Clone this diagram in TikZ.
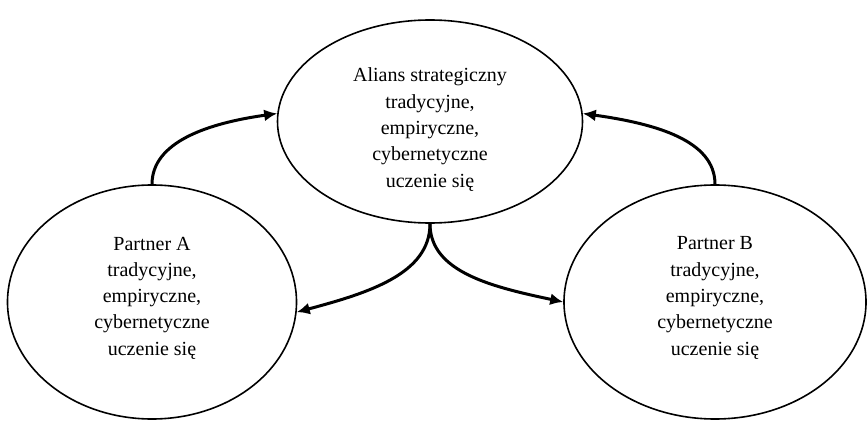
\documentclass[tikz,border=0pt]{standalone}
\usepackage{fontspec}
\setmainfont{Liberation Serif}
\usetikzlibrary{shapes.geometric,arrows.meta}
\begin{document}
\begin{tikzpicture}[x=1pt,y=1pt,
  oval/.style={draw=black,line width=1.6pt,ellipse,inner sep=0pt},
  label text/.style={align=center,inner sep=0pt,font=\fontsize{20}{26.3}\selectfont},
  flow/.style={draw=black,line width=3pt,-{Latex[length=13pt,width=12pt]}}]
\useasboundingbox (0,0) rectangle (867,424);
% learning contexts
\node[oval,minimum width=305pt,minimum height=203pt] (T) at (430,302.5) {};
\node[oval,minimum width=289pt,minimum height=234pt] (L) at (152,122) {};
\node[oval,minimum width=302pt,minimum height=234pt] (R) at (715,122) {};
\node[label text] (Tt) at ([yshift=-8pt]T.center)
  {Alians strategiczny\\tradycyjne,\\empiryczne,\\cybernetyczne\\uczenie się};
\node[label text] (Lt) at ([yshift=4pt]L.center)
  {Partner A\\tradycyjne,\\empiryczne,\\cybernetyczne\\uczenie się};
\node[label text] (Rt) at ([yshift=4pt]R.center)
  {Partner B\\tradycyjne,\\empiryczne,\\cybernetyczne\\uczenie się};
% knowledge flows between partners and the alliance
\draw[flow] (L.north) to[out=90,in=188,out looseness=0.75,in looseness=1.25] (T.177);
\draw[flow] (R.north) to[out=90,in=-8,out looseness=0.75,in looseness=1.25] (T.3);
\draw[flow] (T.south) to[out=-90,in=15,out looseness=0.8,in looseness=1.2] (L.-4);
\draw[flow] (T.south) to[out=-90,in=168,out looseness=0.8,in looseness=1.2] (R.west);
\end{tikzpicture}
\end{document}
